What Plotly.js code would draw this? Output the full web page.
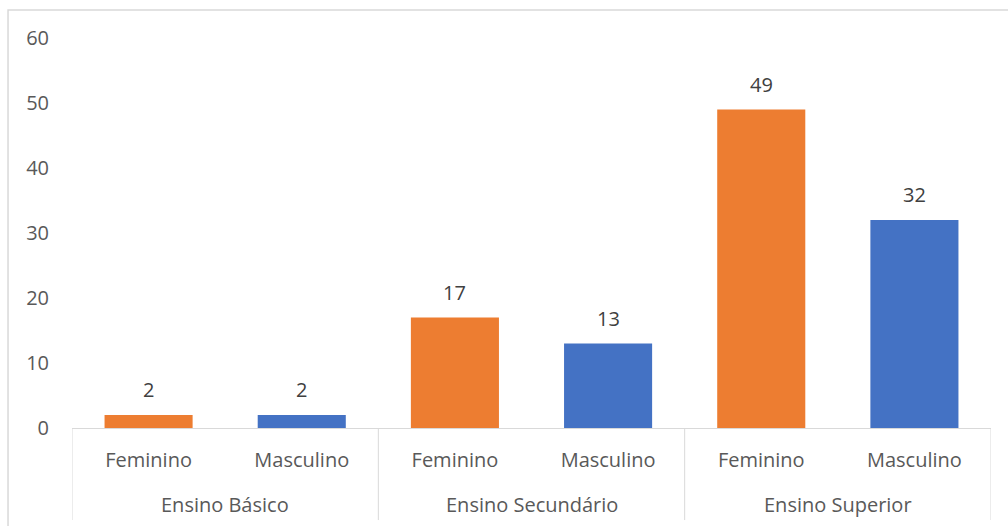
<!DOCTYPE html>
<html>
<head>
<meta charset="utf-8">
<script src="https://cdn.plot.ly/plotly-3.0.1.min.js"></script>
<style>
  html, body { margin: 0; padding: 0; background: #fff; }
  #chart { width: 1008px; height: 526px; }
</style>
</head>
<body>
<div id="chart"></div>
<script>
// Education level groups and sex subcategories
const levels = ["Ensino Básico", "Ensino Secundário", "Ensino Superior"];
const sexes = ["Feminino", "Masculino"];
const yTicks = [0, 10, 20, 30, 40, 50, 60];

// Counts per education level
const feminino = [2, 17, 49];
const masculino = [2, 13, 32];

const orange = "#ED7D31";
const blue = "#4472C4";
const gridGray = "#d9d9d9";
const fontFamily = "Open Sans, Noto Sans, sans-serif";

// One bar slot per (level, sex), placed at consecutive positions
const slots = [];
const subLabels = [];
const values = [];
const colors = [];
levels.forEach((lv, i) => {
  sexes.forEach((s, j) => {
    slots.push(i * sexes.length + j);
    subLabels.push(s);
    values.push(j === 0 ? feminino[i] : masculino[i]);
    colors.push(j === 0 ? orange : blue);
  });
});

const trace = {
  type: "bar",
  x: slots,
  y: values,
  marker: { color: colors, line: { width: 0 } },
  hoverinfo: "y"
};

// Value labels above each bar
const valueLabels = values.map((v, k) => ({
  x: slots[k], xref: "x",
  y: v, yref: "y",
  text: String(v),
  showarrow: false,
  yanchor: "bottom",
  yshift: 10,
  font: { family: fontFamily, size: 20, color: "#404040" }
}));

// Group labels centred under each pair of bars
const groupLabels = levels.map((lv, i) => ({
  x: i * sexes.length + (sexes.length - 1) / 2, xref: "x",
  y: -0.197, yref: "paper",
  text: lv,
  showarrow: false,
  yanchor: "middle",
  font: { family: fontFamily, size: 20, color: "#595959" }
}));

// Vertical dividers at group boundaries
const dividers = [];
for (let i = 0; i <= levels.length; i++) {
  const xb = i * sexes.length - 0.5;
  dividers.push({
    type: "line",
    xref: "x", yref: "paper",
    x0: xb, x1: xb,
    y0: 0, y1: -0.236,
    line: { color: gridGray, width: 1 }
  });
}

const layout = {
  width: 1008,
  height: 526,
  margin: { l: 72, r: 17, t: 38, b: 98 },
  paper_bgcolor: "#ffffff",
  plot_bgcolor: "#ffffff",
  showlegend: false,
  bargap: 0.425,
  font: { family: fontFamily, size: 20, color: "#595959" },
  xaxis: {
    range: [-0.5, slots.length - 0.5],
    tickvals: slots,
    ticktext: subLabels,
    showline: true,
    linecolor: gridGray,
    linewidth: 1,
    ticks: "",
    showgrid: false,
    zeroline: false,
    ticklabelstandoff: 14,
    tickfont: { family: fontFamily, size: 20, color: "#595959" }
  },
  yaxis: {
    range: [0, 60],
    tickvals: yTicks,
    showgrid: false,
    zeroline: false,
    showline: false,
    ticks: "",
    ticklabelstandoff: 22,
    tickfont: { family: fontFamily, size: 20, color: "#595959" }
  },
  annotations: valueLabels.concat(groupLabels),
  shapes: dividers.concat([
    {
      type: "rect",
      xref: "paper", yref: "paper",
      x0: -0.0696, x1: 1.03,
      y0: -0.27, y1: 1.0718,
      line: { color: gridGray, width: 1.5 },
      fillcolor: "rgba(0,0,0,0)",
      layer: "below"
    }
  ])
};

Plotly.newPlot("chart", [trace], layout, { displayModeBar: false, staticPlot: true });
</script>
</body>
</html>
